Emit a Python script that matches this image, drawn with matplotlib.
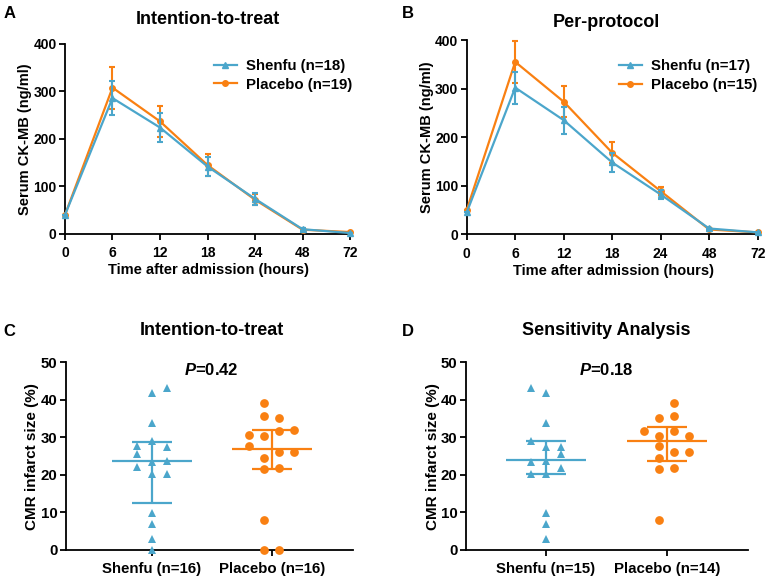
import matplotlib
matplotlib.use("Agg")
import matplotlib.pyplot as plt
from matplotlib.lines import Line2D
import numpy as np

plt.rcParams['font.family'] = ['Liberation Sans', 'DejaVu Sans']
plt.rcParams['font.weight'] = 'bold'
plt.rcParams['mathtext.fontset'] = 'custom'
plt.rcParams['mathtext.it'] = 'Liberation Sans:italic:bold'
plt.rcParams['mathtext.rm'] = 'Liberation Sans:bold'

BLUE = '#4BA6CB'
ORANGE = '#F98012'

# CK-MB time course (panels A and B)
hours = ['0', '6', '12', '18', '24', '48', '72']

itt_shenfu = [40, 286, 224, 142, 74, 10, 2]
itt_shenfu_err = [0, 36, 30, 19, 12, 3, 1]
itt_placebo = [40, 308, 237, 145, 72, 9, 4]
itt_placebo_err = [0, 44, 33, 23, 12, 3, 1]

pp_shenfu = [45, 302, 235, 148, 82, 12, 4]
pp_shenfu_err = [0, 33, 28, 20, 10, 2, 1]
pp_placebo = [50, 355, 273, 168, 89, 10, 4]
pp_placebo_err = [0, 43, 32, 22, 9, 2, 1]

# CMR infarct size (panels C and D): values and horizontal jitter slot
c_shenfu = [41.9, 43.1, 33.7, 29.0, 27.6, 27.4, 25.6, 23.4, 23.7, 22.0,
            20.2, 20.2, 9.9, 7.0, 3.0, 0.0]
c_shenfu_slot = [0, 1, 0, 0, -1, 1, -1, 0, 1, -1, 0, 1, 0, 0, 0, 0]
c_placebo = [39.2, 35.7, 35.2, 30.6, 30.4, 31.7, 31.9, 27.8, 26.1, 26.1,
             24.4, 21.6, 21.9, 8.1, 0.0, 0.0]
c_placebo_slot = [-1, -1, 1, -3, -1, 1, 3, -3, 1, 3, -1, -1, 1, -1, -1, 1]
c_shenfu_stats = [23.8, 12.5, 28.8]   # median, q1, q3
c_placebo_stats = [26.9, 21.7, 31.9]

d_shenfu = [43.1, 41.7, 33.7, 29.0, 27.5, 27.5, 25.5, 23.5, 23.7, 21.9,
            20.2, 20.2, 9.8, 6.9, 3.0]
d_shenfu_slot = [-1, 0, 0, -1, 0, 1, 1, -1, 0, 1, -1, 0, 0, 0, 0]
d_placebo = [39.1, 35.1, 35.6, 31.8, 31.7, 30.4, 30.3, 27.7, 26.1, 26.1,
             24.4, 21.5, 21.9, 8.0]
d_placebo_slot = [1, -1, 1, -3, 1, -1, 3, -1, 1, 3, -1, -1, 1, -1]
d_shenfu_stats = [24.0, 20.2, 29.1]
d_placebo_stats = [29.0, 23.8, 32.7]


def style_axes(ax):
    for s in ['top', 'right']:
        ax.spines[s].set_visible(False)
    for s in ['left', 'bottom']:
        ax.spines[s].set_linewidth(1.3)
    ax.tick_params(width=1.3, length=4, labelsize=10, pad=3)
    ax.tick_params(axis='y', pad=2)


def line_panel(ax, shenfu, shenfu_err, placebo, placebo_err, n_s, n_p, legend_pos):
    x = np.arange(len(hours))
    ax.errorbar(x, placebo, yerr=placebo_err, color=ORANGE, marker='o', ms=4,
                lw=1.6, elinewidth=1.5, capsize=2.5, capthick=1.5, clip_on=False,
                zorder=3)
    ax.errorbar(x, shenfu, yerr=shenfu_err, color=BLUE, marker='^', ms=4,
                lw=1.6, elinewidth=1.5, capsize=2.5, capthick=1.5, clip_on=False,
                zorder=4)
    ax.set_xticks(x)
    ax.set_xticklabels(hours)
    ax.set_ylim(0, 400)
    ax.set_yticks([0, 100, 200, 300, 400])
    style_axes(ax)
    ax.tick_params(axis='x', pad=5)
    ax.set_xlabel('Time after admission (hours)', fontsize=10.5, fontweight='bold', labelpad=2)
    ax.set_ylabel('Serum CK-MB (ng/ml)', fontsize=10.5, fontweight='bold', labelpad=1)
    handles = [Line2D([], [], color=BLUE, marker='^', ms=4, lw=1.6),
               Line2D([], [], color=ORANGE, marker='o', ms=4, lw=1.6)]
    labels = ['Shenfu (n=%d)' % n_s, 'Placebo (n=%d)' % n_p]
    ax.legend(handles, labels, loc='upper left', bbox_to_anchor=legend_pos,
              frameon=False, fontsize=10.8, handlelength=1.5, borderpad=0,
              borderaxespad=0, labelspacing=0.3, handletextpad=0.6)


def dot_panel(ax, shenfu, s_slot, placebo, p_slot, s_stats, p_stats, n_s, n_p, ptxt):
    ax.plot(0 + 0.125 * np.array(s_slot), shenfu, '^', color=BLUE, ms=6,
            mew=0, clip_on=False, zorder=3)
    ax.plot(1 + 0.0625 * np.array(p_slot), placebo, 'o', color=ORANGE, ms=6.3,
            mew=0, clip_on=False, zorder=3)
    for xc, st, col in [(0, s_stats, BLUE), (1, p_stats, ORANGE)]:
        ax.hlines(st[0], xc - 0.333, xc + 0.333, color=col, lw=1.6, zorder=4)
        ax.hlines([st[1], st[2]], xc - 0.167, xc + 0.167, color=col, lw=1.6, zorder=4)
        ax.vlines(xc, st[1], st[2], color=col, lw=1.6, zorder=4)
    ax.set_ylim(0, 50)
    ax.set_yticks([0, 10, 20, 30, 40, 50])
    ax.set_xticks([0, 1])
    ax.set_xticklabels(['Shenfu (n=%d)' % n_s, 'Placebo (n=%d)' % n_p])
    style_axes(ax)
    ax.set_ylabel('CMR infarct size (%)', fontsize=11, fontweight='bold', labelpad=1)
    ax.tick_params(axis='x', labelsize=10.8, pad=5)
    ax.tick_params(axis='y', labelsize=10.8)
    ax.text(0.5, 48, r'$P$=' + ptxt, ha='center', va='center', fontsize=12,
            fontweight='bold')


fig = plt.figure(figsize=(7.67, 5.79), dpi=100)

axA = fig.add_axes([0.0847, 0.5959, 0.3742, 0.3282])
line_panel(axA, itt_shenfu, itt_shenfu_err, itt_placebo, itt_placebo_err, 18, 19, (0.52, 0.92))
axA.set_xlim(0, 6.04)

axB = fig.add_axes([0.6085, 0.5953, 0.3824, 0.3356])
line_panel(axB, pp_shenfu, pp_shenfu_err, pp_placebo, pp_placebo_err, 17, 15, (0.52, 0.9))
axB.set_xlim(0, 6.05)

axC = fig.add_axes([0.0857, 0.0501, 0.3742, 0.3242])
dot_panel(axC, c_shenfu, c_shenfu_slot, c_placebo, c_placebo_slot,
          c_shenfu_stats, c_placebo_stats, 16, 16, '0.42')
axC.set_xlim(-0.717, 1.675)

axD = fig.add_axes([0.6076, 0.0501, 0.3673, 0.3242])
dot_panel(axD, d_shenfu, d_shenfu_slot, d_placebo, d_placebo_slot,
          d_shenfu_stats, d_placebo_stats, 15, 14, '0.18')
axD.set_xlim(-0.663, 1.671)

# titles and panel letters
fig.text(0.271, 0.9655, 'Intention-to-treat', ha='center', va='center', fontsize=13, fontweight='bold')
fig.text(0.791, 0.962, 'Per-protocol', ha='center', va='center', fontsize=13, fontweight='bold')
fig.text(0.276, 0.430, 'Intention-to-treat', ha='center', va='center', fontsize=13, fontweight='bold')
fig.text(0.791, 0.430, 'Sensitivity Analysis', ha='center', va='center', fontsize=13, fontweight='bold')
for letter, x, y in [('A', 10, 13), ('B', 408, 13), ('C', 9, 332), ('D', 408, 332)]:
    fig.text(x / 767, 1 - y / 579, letter, ha='center', va='center', fontsize=12, fontweight='bold')

fig.savefig('out.png', dpi=100)
